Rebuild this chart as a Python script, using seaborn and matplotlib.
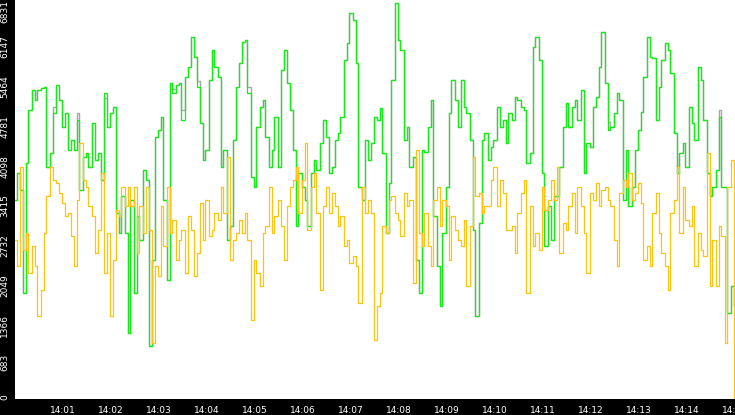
import pandas as pd
import matplotlib.pyplot as plt
import matplotlib.transforms as mtrans
import seaborn as sns

# one sample every 3.75 s from 14:00:00 to 14:15:00
green_vals = [
    3410, 3866, 3581, 1814, 4037, 4949, 5291, 5120, 5291, 5320, 5348, 3980, 4208, 4892, 5376, 5120, 4664, 4892, 4265, 4436,
    4265, 4778, 3581, 4151, 4208, 3980, 4721, 4094, 4208, 3752, 5234, 4664, 4892, 5006, 3182, 2840, 3467, 2840, 1130, 3410,
    1814, 3125, 2726, 3923, 3752, 902, 2384, 4493, 4607, 4835, 3410, 2042, 5405, 5234, 5376, 5405, 4778, 5519, 5690, 6203,
    5861, 5348, 4721, 4094, 4265, 5462, 5975, 5690, 5519, 3980, 4265, 2726, 2954, 4436, 5348, 5747, 6117, 6146, 5234, 3809,
    3638, 4664, 5006, 5120, 4493, 3980, 4265, 4835, 3980, 5633, 5975, 5405, 4949, 4265, 2954, 3866, 3638, 3410, 2954, 3866,
    4094, 3923, 4379, 4778, 4493, 3866, 3980, 4436, 4550, 4835, 5804, 6089, 6602, 6488, 5747, 3638, 3410, 4436, 4094, 4379,
    4835, 4778, 4978, 4208, 2840, 3695, 5462, 6773, 6146, 5975, 4436, 4664, 3980, 4151, 2384, 1814, 4265, 4237, 4664, 5120,
    3125, 2270, 1586, 2840, 3638, 4892, 5462, 5120, 4664, 5462, 5006, 4892, 4436, 2897, 1415, 3011, 4436, 4550, 4094, 4322,
    4436, 5006, 4664, 4778, 4379, 4892, 4778, 5177, 5120, 5006, 4949, 4037, 4208, 6032, 6203, 5804, 3866, 2612, 3296, 2726,
    3467, 3467, 3980, 4664, 5063, 4664, 5006, 5120, 4778, 5291, 3866, 4379, 4322, 5006, 5177, 5690, 6289, 5405, 4607, 4664,
    4892, 5234, 5120, 3410, 4265, 3296, 3638, 4265, 4607, 4920, 5519, 6203, 5861, 5832, 4778, 5348, 5804, 6089, 5975, 5576,
    4550, 3866, 4208, 4379, 3980, 5006, 4721, 4436, 5690, 5462, 4778, 3866, 3467, 3638, 3923, 4835, 3638, 3638, 1472, 1928,
    1600,
]

gray_vals = [
    3410, 3866, 3581, 1814, 4037, 4949, 5291, 5120, 5291, 5320, 5348, 3980, 4208, 5000, 5376, 5120, 4664, 4892, 4265, 4436,
    4265, 4900, 3581, 4151, 4208, 3980, 4721, 4094, 4208, 3752, 5150, 4664, 4892, 5006, 3182, 2840, 3467, 2840, 1130, 3410,
    1814, 3125, 2726, 3923, 3752, 902, 2384, 4493, 4607, 4835, 3410, 2042, 5405, 5300, 5376, 5405, 4950, 5519, 5690, 6203,
    5861, 5450, 4721, 4094, 4265, 5462, 5975, 5690, 5519, 3980, 4265, 2726, 2954, 4436, 5348, 5747, 6117, 6146, 5350, 3809,
    3638, 4664, 5006, 5120, 4493, 3980, 4265, 4835, 3980, 5633, 5975, 5405, 4949, 4265, 2954, 3866, 3638, 3410, 2954, 3866,
    4094, 3923, 4379, 4778, 4493, 3866, 3980, 4436, 4550, 4835, 5804, 6089, 6602, 6488, 5747, 3638, 3410, 4436, 4094, 4379,
    4835, 4778, 4978, 4208, 2840, 3695, 5462, 6773, 6146, 5975, 4436, 4664, 3980, 4151, 2384, 1814, 4265, 4237, 4664, 5120,
    3125, 2270, 1586, 2840, 3638, 4892, 5462, 5120, 4664, 5462, 5006, 4892, 4436, 2897, 1415, 3011, 4436, 4550, 4094, 4322,
    4436, 5006, 4664, 4778, 4379, 4892, 4778, 5177, 5120, 5006, 4949, 4037, 4208, 6032, 6203, 5804, 3866, 2612, 3296, 2726,
    3467, 3467, 3980, 4664, 5063, 4664, 5006, 5120, 4778, 5291, 3866, 4379, 4322, 5006, 5177, 5690, 6289, 5405, 4750, 4664,
    4892, 5234, 5120, 3410, 4265, 3296, 3638, 4265, 4607, 4920, 5519, 6203, 5861, 5832, 4778, 5348, 5804, 6089, 5975, 5576,
    4550, 3866, 4208, 4379, 3980, 5006, 4721, 4436, 5690, 5462, 4778, 3866, 3467, 3638, 3923, 4950, 3638, 3638, 1472, 1928,
    1600,
]

orange_vals = [
    2726, 2270, 3980, 2555, 2840, 2156, 2612, 2270, 1415, 1871, 2840, 3467, 3980, 3752, 3695, 3524, 3353, 3125, 3182, 2783,
    2270, 3410, 4379, 3752, 3638, 3296, 3125, 2498, 2897, 3866, 2156, 2840, 1415, 2384, 3239, 3125, 3638, 3296, 3638, 3296,
    3638, 2498, 3296, 2840, 3638, 2897, 959, 2270, 2099, 3296, 2612, 3638, 2840, 3068, 2384, 2726, 2897, 2156, 3125, 2897,
    2099, 2498, 3353, 2726, 3410, 2783, 2897, 3182, 3068, 3638, 3182, 4151, 2384, 2726, 2840, 3068, 2840, 3182, 2726, 1358,
    2384, 2156, 1928, 2840, 2954, 3638, 2840, 3125, 3410, 2954, 2384, 3296, 3638, 3752, 3980, 3182, 3752, 4379, 2897, 3638,
    3866, 3182, 1871, 3296, 3638, 3182, 3524, 3296, 2954, 3125, 2612, 2726, 2327, 2441, 2270, 1643, 3638, 3182, 3410, 3182,
    1016, 1586, 1814, 2954, 2840, 3410, 3467, 3182, 3068, 2783, 3524, 3296, 3410, 1985, 4265, 2840, 2612, 3182, 2612, 2270,
    3410, 3638, 2954, 3410, 3296, 2384, 3125, 2897, 2726, 2612, 3068, 1928, 2954, 4151, 3467, 3524, 3182, 3296, 3296, 3752,
    3980, 3296, 3752, 3524, 2897, 2897, 2954, 2498, 3182, 3524, 3752, 1814, 3296, 2612, 2840, 2555, 3638, 3239, 3410, 3752,
    3410, 3980, 2498, 3011, 2897, 3296, 3524, 2840, 3638, 3296, 2840, 2156, 3524, 3410, 3695, 3296, 3581, 3638, 3410, 3296,
    2726, 2270, 3524, 3752, 3638, 3866, 3410, 3524, 3695, 3353, 2384, 2612, 2270, 3182, 3524, 2840, 2498, 2270, 1871, 3182,
    3410, 3980, 2840, 3638, 3068, 2954, 3296, 2270, 2840, 2555, 2441, 4208, 1928, 2726, 1928, 2954, 2783, 959, 3638, 4094,
    0,
]

y_ticks = [0, 683, 1366, 2049, 2732, 3415, 4098, 4781, 5464, 6147, 6831]
x_tick_labels = ['14:01', '14:02', '14:03', '14:04', '14:05', '14:06', '14:07', '14:08',
                 '14:09', '14:10', '14:11', '14:12', '14:13', '14:14', '14:15']

times = pd.date_range('2024-01-01 14:00:00', '2024-01-01 14:15:00', periods=len(green_vals))
df = pd.DataFrame({'time': times, 'gray': gray_vals, 'green': green_vals, 'orange': orange_vals})

sns.set_style('white')
fig = plt.figure(figsize=(7.35, 4.15), dpi=100, facecolor='black')
ax = fig.add_axes([15 / 735, 16 / 415, 720 / 735, 399 / 415])
ax.set_facecolor('white')

# steps give the dense vertical look of the original trace
series = [('gray', '#a8a8a8', 1.0), ('green', '#11ee11', 0.9), ('orange', '#ffc20e', 0.9)]
for col, color, lw in series:
    sns.lineplot(data=df, x='time', y=col, color=color, ax=ax,
                 drawstyle='steps-mid', lw=lw)

ax.set_xlim(times[0], times[-1])
ax.set_ylim(0, 6831)
ax.set_xlabel('')
ax.set_ylabel('')
for s in ax.spines.values():
    s.set_visible(False)

xt = pd.to_datetime(['2024-01-01 ' + t for t in x_tick_labels])
ax.set_xticks(xt)
ax.set_xticklabels(x_tick_labels)
ax.set_yticks(y_ticks)
ax.set_yticklabels([str(v) for v in y_ticks], rotation=90, va='top')

ax.tick_params(axis='x', colors='white', length=4.5, width=0.8, pad=0.5, labelsize=6.5)
ax.tick_params(axis='y', colors='white', length=3, width=0.8, pad=1, labelsize=6.5)

# labels sit a little above their tick, except the top one
shift = mtrans.ScaledTranslation(0, 5 / 100, fig.dpi_scale_trans)
for lbl in ax.get_yticklabels()[:-1]:
    lbl.set_transform(lbl.get_transform() + shift)

fig.savefig('out.png', dpi=100, facecolor='black')
